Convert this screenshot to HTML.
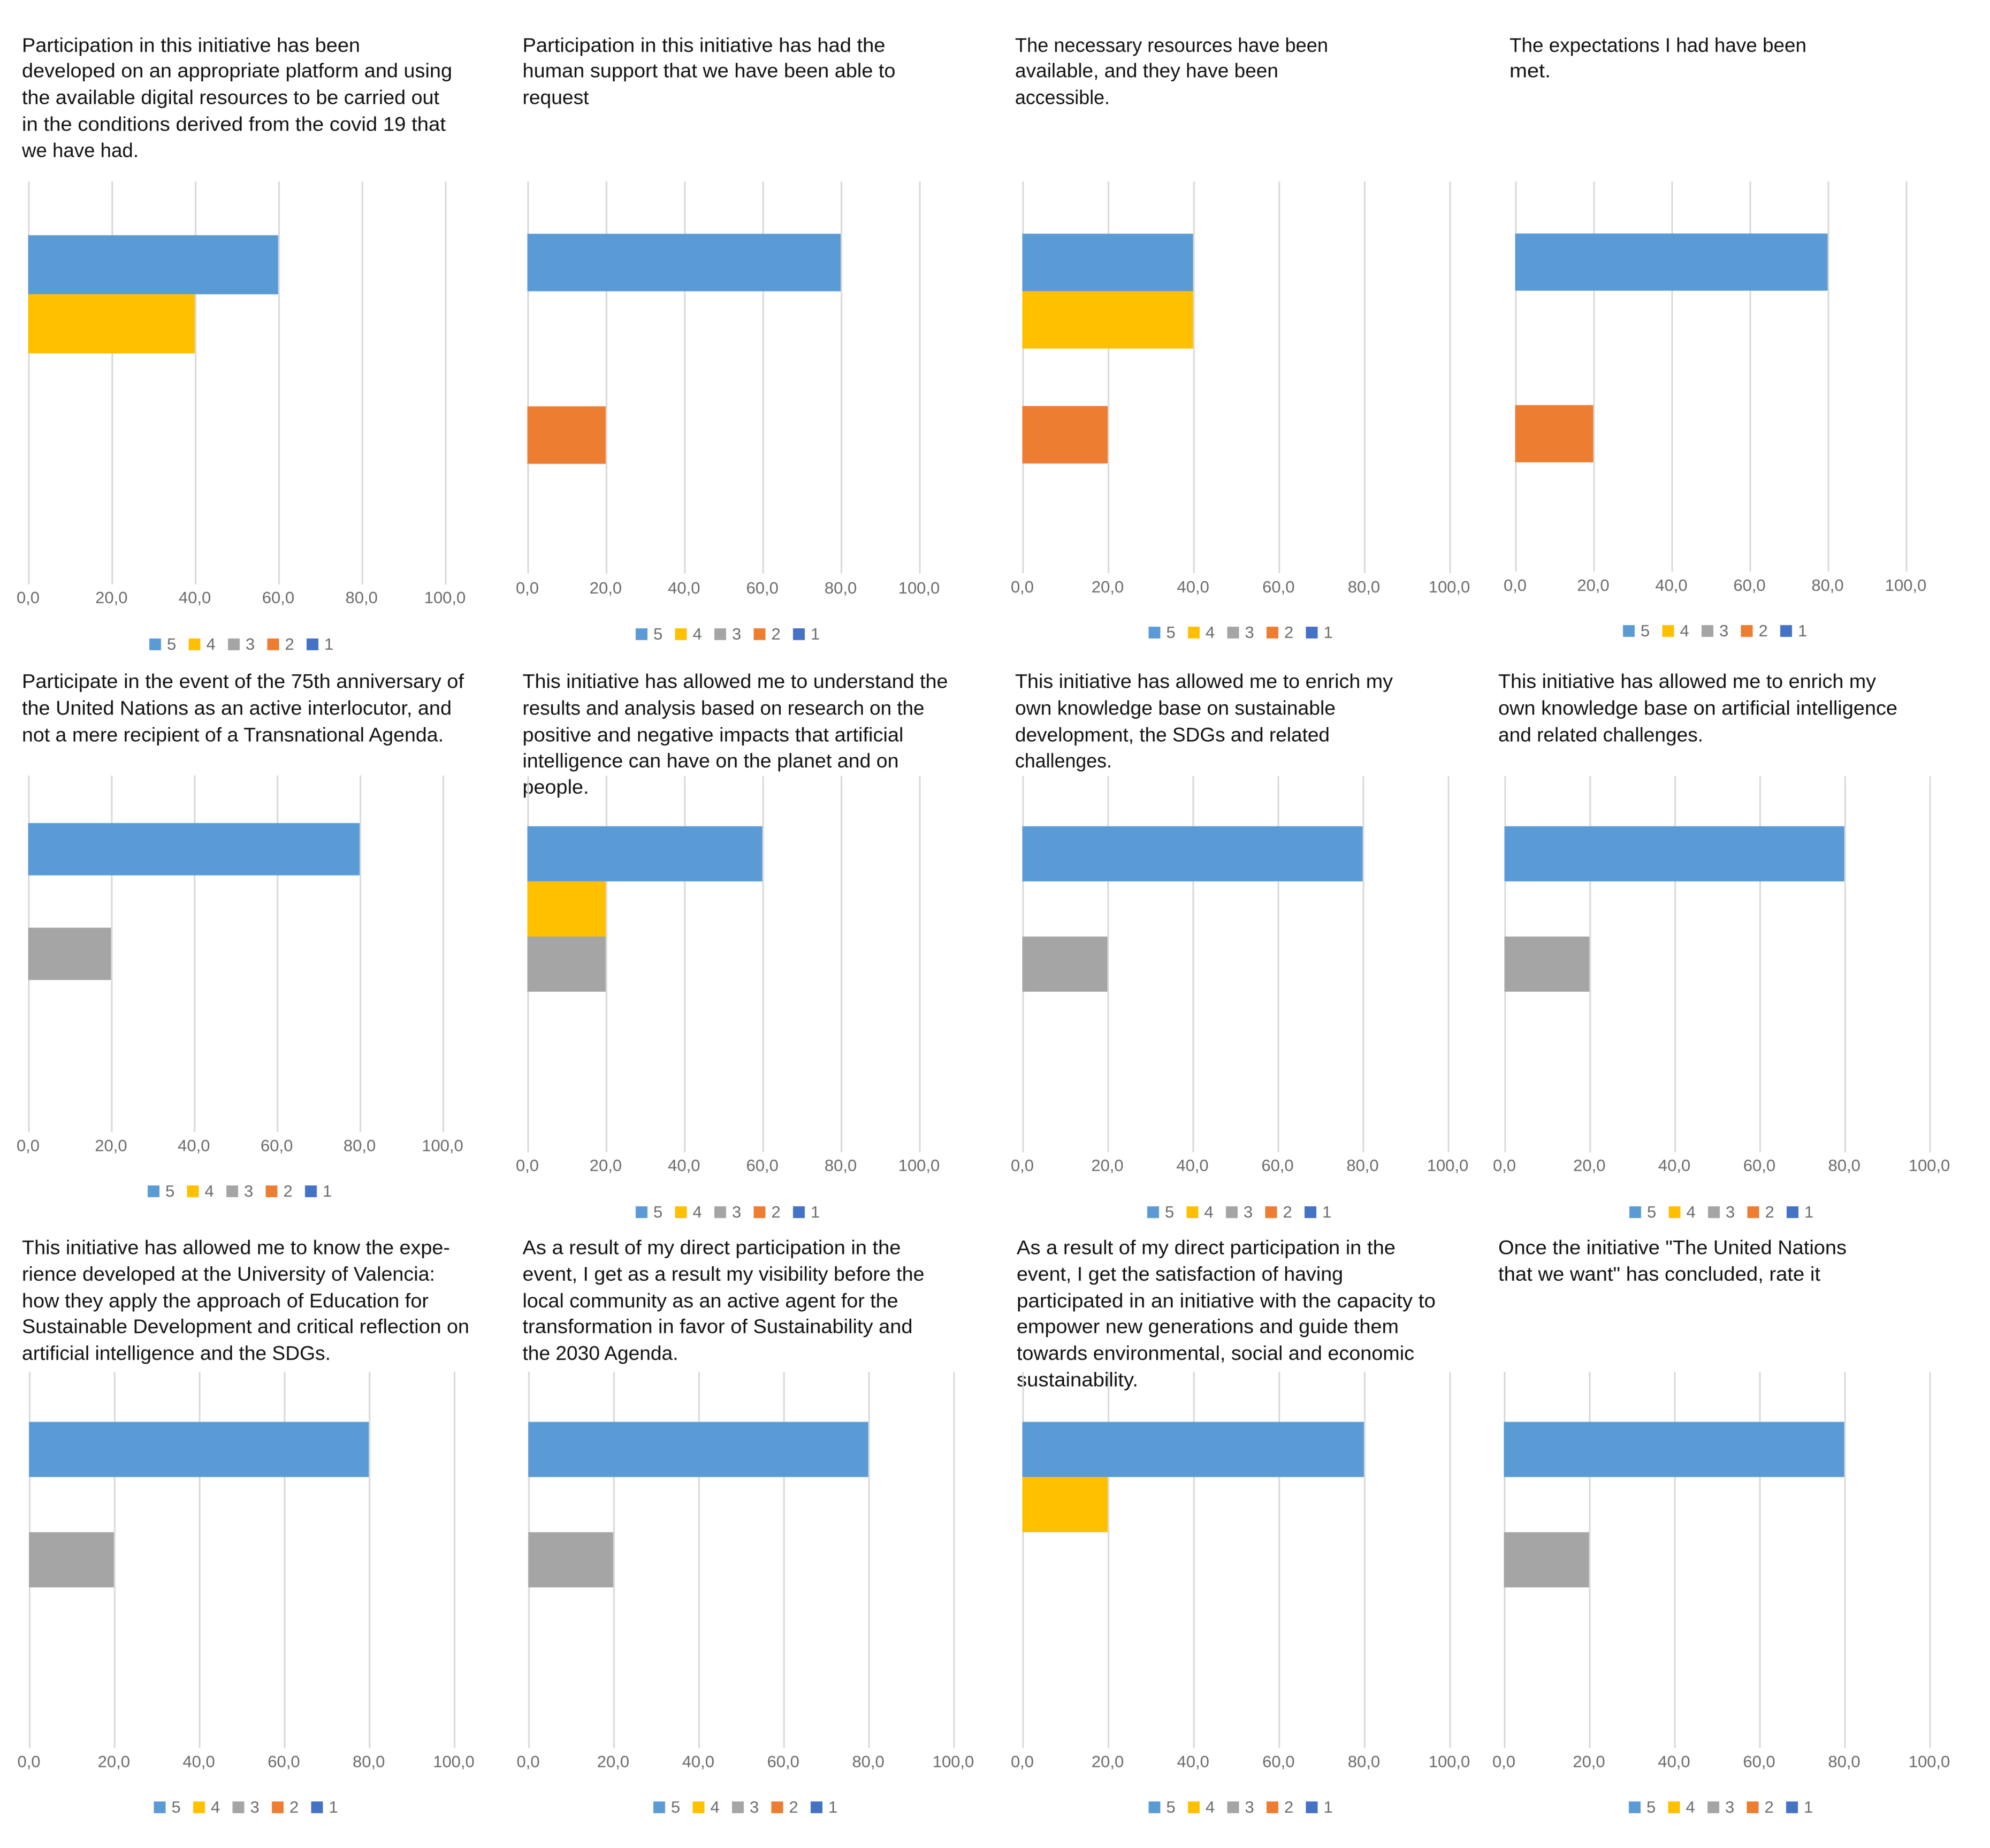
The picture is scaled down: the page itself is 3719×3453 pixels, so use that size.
<!DOCTYPE html>
<html lang="en">
<head>
<meta charset="utf-8">
<title>Survey results by statement</title>
<style>
  html, body { margin: 0; padding: 0; background: #ffffff; }
  body { width: 3719px; height: 3453px; overflow: hidden; }
  #chart { display: block; filter: blur(0.8px); font-family: "Liberation Sans", sans-serif; }
  .title text { font-size: 37.5px; fill: #111111; }
  .tick { font-size: 31px; fill: #6a6a6a; text-anchor: middle; }
  .legend-text { font-size: 31px; fill: #6a6a6a; }
</style>
</head>
<body>
<svg id="chart" xmlns="http://www.w3.org/2000/svg" width="3719" height="3453" viewBox="0 0 3719 3453">
  <rect width="3719" height="3453" fill="#ffffff"/>

  <g class="title">
    <text x="41" y="97" textLength="632" lengthAdjust="spacingAndGlyphs">Participation in this initiative has been</text>
    <text x="41" y="144.5" textLength="804" lengthAdjust="spacingAndGlyphs">developed on an appropriate platform and using</text>
    <text x="41" y="194.5" textLength="780" lengthAdjust="spacingAndGlyphs">the available digital resources to be carried out</text>
    <text x="41" y="244.5" textLength="792" lengthAdjust="spacingAndGlyphs">in the conditions derived from the covid 19 that</text>
    <text x="41" y="293.5" textLength="218" lengthAdjust="spacingAndGlyphs">we have had.</text>
  </g>
  <g class="title">
    <text x="976.5" y="97" textLength="678" lengthAdjust="spacingAndGlyphs">Participation in this initiative has had the</text>
    <text x="976.5" y="144.5" textLength="697" lengthAdjust="spacingAndGlyphs">human support that we have been able to</text>
    <text x="976.5" y="194.5" textLength="124" lengthAdjust="spacingAndGlyphs">request</text>
  </g>
  <g class="title">
    <text x="1897" y="97" textLength="585" lengthAdjust="spacingAndGlyphs">The necessary resources have been</text>
    <text x="1897" y="144.5" textLength="492" lengthAdjust="spacingAndGlyphs">available, and they have been</text>
    <text x="1897" y="194.5" textLength="177" lengthAdjust="spacingAndGlyphs">accessible.</text>
  </g>
  <g class="title">
    <text x="2821" y="97" textLength="555" lengthAdjust="spacingAndGlyphs">The expectations I had have been</text>
    <text x="2821" y="144.5" textLength="77" lengthAdjust="spacingAndGlyphs">met.</text>
  </g>

  <g class="title">
    <text x="41" y="1285.5" textLength="826" lengthAdjust="spacingAndGlyphs">Participate in the event of the 75th anniversary of</text>
    <text x="41" y="1335.5" textLength="803" lengthAdjust="spacingAndGlyphs">the United Nations as an active interlocutor, and</text>
    <text x="41" y="1385.5" textLength="788" lengthAdjust="spacingAndGlyphs">not a mere recipient of a Transnational Agenda.</text>
  </g>
  <g class="title">
    <text x="976.5" y="1285.5" textLength="795" lengthAdjust="spacingAndGlyphs">This initiative has allowed me to understand the</text>
    <text x="976.5" y="1335.5" textLength="751" lengthAdjust="spacingAndGlyphs">results and analysis based on research on the</text>
    <text x="976.5" y="1385.5" textLength="712" lengthAdjust="spacingAndGlyphs">positive and negative impacts that artificial</text>
    <text x="976.5" y="1434" textLength="703" lengthAdjust="spacingAndGlyphs">intelligence can have on the planet and on</text>
    <text x="976.5" y="1483" textLength="124" lengthAdjust="spacingAndGlyphs">people.</text>
  </g>
  <g class="title">
    <text x="1897" y="1285.5" textLength="706" lengthAdjust="spacingAndGlyphs">This initiative has allowed me to enrich my</text>
    <text x="1897" y="1335.5" textLength="599" lengthAdjust="spacingAndGlyphs">own knowledge base on sustainable</text>
    <text x="1897" y="1385.5" textLength="588" lengthAdjust="spacingAndGlyphs">development, the SDGs and related</text>
    <text x="1897" y="1434" textLength="181" lengthAdjust="spacingAndGlyphs">challenges.</text>
  </g>
  <g class="title">
    <text x="2800" y="1285.5" textLength="706" lengthAdjust="spacingAndGlyphs">This initiative has allowed me to enrich my</text>
    <text x="2800" y="1335.5" textLength="746" lengthAdjust="spacingAndGlyphs">own knowledge base on artificial intelligence</text>
    <text x="2800" y="1385.5" textLength="383" lengthAdjust="spacingAndGlyphs">and related challenges.</text>
  </g>

  <g class="title">
    <text x="41" y="2343.5" textLength="800" lengthAdjust="spacingAndGlyphs">This initiative has allowed me to know the expe-</text>
    <text x="41" y="2393" textLength="772" lengthAdjust="spacingAndGlyphs">rience developed at the University of Valencia:</text>
    <text x="41" y="2443" textLength="760" lengthAdjust="spacingAndGlyphs">how they apply the approach of Education for</text>
    <text x="41" y="2491" textLength="836" lengthAdjust="spacingAndGlyphs">Sustainable Development and critical reflection on</text>
    <text x="41" y="2541" textLength="577" lengthAdjust="spacingAndGlyphs">artificial intelligence and the SDGs.</text>
  </g>
  <g class="title">
    <text x="976.5" y="2343.5" textLength="707" lengthAdjust="spacingAndGlyphs">As a result of my direct participation in the</text>
    <text x="976.5" y="2393" textLength="751" lengthAdjust="spacingAndGlyphs">event, I get as a result my visibility before the</text>
    <text x="976.5" y="2443" textLength="702" lengthAdjust="spacingAndGlyphs">local community as an active agent for the</text>
    <text x="976.5" y="2491" textLength="729" lengthAdjust="spacingAndGlyphs">transformation in favor of Sustainability and</text>
    <text x="976.5" y="2541" textLength="291" lengthAdjust="spacingAndGlyphs">the 2030 Agenda.</text>
  </g>
  <g class="title">
    <text x="1900" y="2343.5" textLength="708" lengthAdjust="spacingAndGlyphs">As a result of my direct participation in the</text>
    <text x="1900" y="2393" textLength="610" lengthAdjust="spacingAndGlyphs">event, I get the satisfaction of having</text>
    <text x="1900" y="2443" textLength="783" lengthAdjust="spacingAndGlyphs">participated in an initiative with the capacity to</text>
    <text x="1900" y="2491" textLength="714" lengthAdjust="spacingAndGlyphs">empower new generations and guide them</text>
    <text x="1900" y="2541" textLength="743" lengthAdjust="spacingAndGlyphs">towards environmental, social and economic</text>
    <text x="1900" y="2590.5" textLength="227" lengthAdjust="spacingAndGlyphs">sustainability.</text>
  </g>
  <g class="title">
    <text x="2800" y="2343.5" textLength="651" lengthAdjust="spacingAndGlyphs">Once the initiative "The United Nations</text>
    <text x="2800" y="2393" textLength="602" lengthAdjust="spacingAndGlyphs">that we want" has concluded, rate it</text>
  </g>
</svg>

<script>
// Chart data: percentage of answers per rating, one entry per panel (panel 1..12).
const rating5 = [60, 80, 40, 80, 80, 60, 80, 80, 80, 80, 80, 80];
const rating4 = [40, 0, 40, 0, 0, 20, 0, 0, 0, 0, 20, 0];
const rating3 = [0, 0, 0, 0, 20, 20, 20, 20, 20, 20, 0, 20];
const rating2 = [0, 20, 20, 20, 0, 0, 0, 0, 0, 0, 0, 0];
const rating1 = [0, 0, 0, 0, 0, 0, 0, 0, 0, 0, 0, 0];
const seriesNames = ["5", "4", "3", "2", "1"];
const tickValues = [0, 20, 40, 60, 80, 100];
const tickLabels = ["0,0", "20,0", "40,0", "60,0", "80,0", "100,0"];

const seriesValues = [rating5, rating4, rating3, rating2, rating1];
const seriesColors = ["#5B9BD5", "#FFC000", "#A5A5A5", "#ED7D31", "#4472C4"];
const AXIS_MAX = 100;
const GAP_RATIO = 1.82;

// Panel frames (layout only, no data).
const frames = [
  { x0: 54,   x1: 833,  top: 339,  bottom: 1092, tickY: 1127, legendY: 1204, legendX: 279 },
  { x0: 987,  x1: 1719, top: 339,  bottom: 1072, tickY: 1109, legendY: 1185, legendX: 1188 },
  { x0: 1912, x1: 2710, top: 339,  bottom: 1071, tickY: 1107, legendY: 1182, legendX: 2146.5 },
  { x0: 2833, x1: 3563, top: 339,  bottom: 1068, tickY: 1104, legendY: 1179, legendX: 3033 },
  { x0: 54,   x1: 828.5, top: 1449, bottom: 2115.5, tickY: 2151, legendY: 2226, legendX: 276 },
  { x0: 987,  x1: 1719, top: 1450, bottom: 2153, tickY: 2188, legendY: 2265, legendX: 1188 },
  { x0: 1912, x1: 2707, top: 1450, bottom: 2153, tickY: 2188, legendY: 2265, legendX: 2144 },
  { x0: 2813, x1: 3607, top: 1450, bottom: 2153, tickY: 2188, legendY: 2265, legendX: 3045 },
  { x0: 55.5, x1: 849.5, top: 2563, bottom: 3266, tickY: 3302, legendY: 3377, legendX: 287.5 },
  { x0: 988.6, x1: 1783, top: 2563, bottom: 3266, tickY: 3302, legendY: 3377, legendX: 1221 },
  { x0: 1912, x1: 2710, top: 2563, bottom: 3266, tickY: 3302, legendY: 3377, legendX: 2146.5 },
  { x0: 2812, x1: 3607, top: 2563, bottom: 3266, tickY: 3302, legendY: 3377, legendX: 3044 }
];

const NS = "http://www.w3.org/2000/svg";
const svg = document.getElementById("chart");

function xScale(frame, value) {
  return frame.x0 + (value / AXIS_MAX) * (frame.x1 - frame.x0);
}
function barHeight(frame) {
  return (frame.bottom - frame.top) / (seriesNames.length + GAP_RATIO);
}
function yScale(frame, seriesIndex) {
  const h = barHeight(frame);
  return frame.top + (GAP_RATIO / 2) * h + seriesIndex * h;
}
function shape(tag, attrs, parent) {
  const el = document.createElementNS(NS, tag);
  Object.keys(attrs).forEach(function (k) { el.setAttribute(k, attrs[k]); });
  parent.appendChild(el);
  return el;
}

frames.forEach(function (frame, p) {
  const panel = document.createElementNS(NS, "g");
  
  
  svg.appendChild(panel);

  tickValues.forEach(function (tv, t) {
    const gx = xScale(frame, tv);
    const line = shape("line", { x1: gx, x2: gx, y1: frame.top, y2: frame.bottom, stroke: "#D9D9D9", "stroke-width": 3 }, panel);
    
    
    const label = shape("text", { x: gx - 1.5, y: frame.tickY, class: "tick" }, panel);
    label.textContent = tickLabels[t];
    
    
  });

  seriesValues.forEach(function (values, s) {
    const bx = xScale(frame, 0) - 1.5;
    const bw = xScale(frame, values[p]) - xScale(frame, 0);
    const bar = shape("rect", { x: bx, y: yScale(frame, s), width: bw, height: barHeight(frame), fill: seriesColors[s] }, panel);
    
    
  });

  const legend = document.createElementNS(NS, "g");
  
  
  panel.appendChild(legend);
  seriesNames.forEach(function (name, s) {
    const lx = frame.legendX + s * 73.5;
    const swatch = shape("rect", { x: lx, y: frame.legendY - 11, width: 22, height: 22, fill: seriesColors[s] }, legend);
    
    
    const text = shape("text", { x: lx + 33, y: frame.legendY + 10, class: "legend-text" }, legend);
    text.textContent = name;
    
    
  });
});
</script>
</body>
</html>
